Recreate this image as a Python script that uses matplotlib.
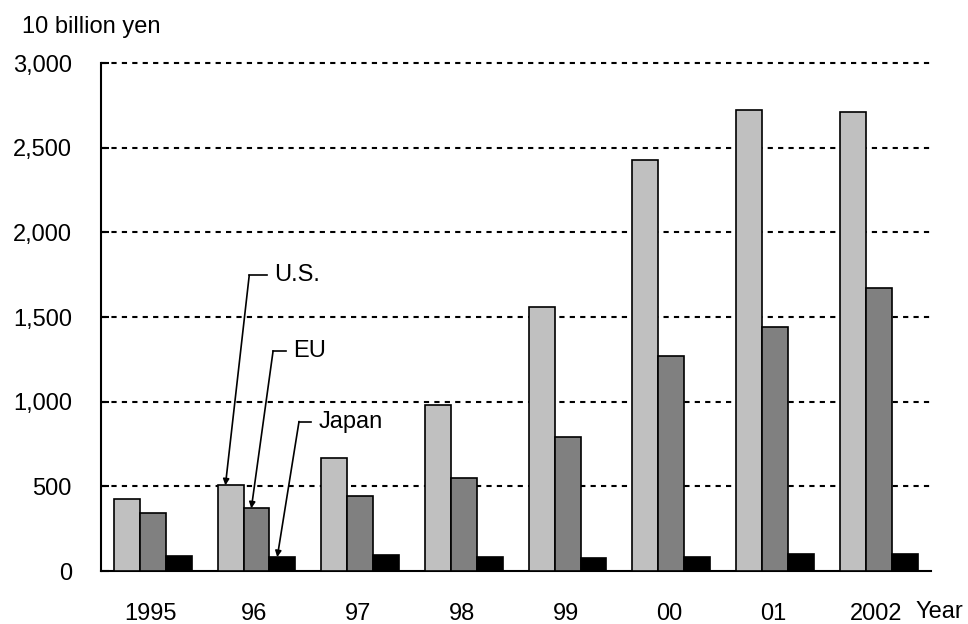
import matplotlib.pyplot as plt
import numpy as np

plt.rcParams['font.family'] = ['Liberation Sans', 'DejaVu Sans']
fs = 17

years = ["1995", "96", "97", "98", "99", "00", "01", "2002"]
us = [423, 506, 670, 978, 1560, 2430, 2720, 2710]
eu = [341, 370, 441, 551, 790, 1270, 1440, 1670]
japan = [88, 82, 94, 85, 75, 80, 100, 100]

fig = plt.figure(figsize=(9.68, 6.24), dpi=100)
ax = fig.add_axes([0.1043, 0.0849, 0.857, 0.8141])

x = np.arange(len(years))
w = 0.25
ax.bar(x - w, us, w, color="#c0c0c0", edgecolor="black", linewidth=1.2, zorder=3)
ax.bar(x, eu, w, color="#808080", edgecolor="black", linewidth=1.2, zorder=3)
ax.bar(x + w, japan, w, color="black", edgecolor="black", linewidth=1.2, zorder=3)

ax.set_xlim(-0.5, len(years) - 0.5)
ax.set_ylim(0, 3000)
ax.set_yticks(np.arange(0, 3001, 500))
ax.set_yticklabels([f"{v:,}" for v in range(0, 3001, 500)])
ax.set_xticks(x - 0.02)
ax.set_xticklabels(years)
ax.tick_params(axis="x", length=0, pad=23, labelsize=fs)
ax.tick_params(axis="y", direction="in", length=6, width=1.5, pad=21, labelsize=fs)

for v in range(500, 3001, 500):
    ax.axhline(v, color="black", linestyle=(0, (2.5, 2.5)), linewidth=1.5,
               zorder=1, clip_on=False)

for s in ["top", "right"]:
    ax.spines[s].set_visible(False)
for s in ["left", "bottom"]:
    ax.spines[s].set_linewidth(1.5)

fig.text(0.023, 0.957, "10 billion yen", fontsize=fs, va="center", ha="left")
fig.text(0.946, 0.019, "Year", fontsize=fs, va="center", ha="left")

# callout labels pointing at the 1996 bars
labels = [("U.S.", 1 - w, us[1], (0.93, 1747), (1.12, 1747)),
          ("EU", 1, eu[1], (1.16, 1300), (1.30, 1300)),
          ("Japan", 1 + w, japan[1], (1.41, 883), (1.55, 883))]
for name, xt, yt, corner, tx in labels:
    ax.plot([corner[0], tx[0] - 0.02], [corner[1], corner[1]], color="black", lw=1.2, zorder=4)
    ax.annotate("", xy=(xt - 0.05, yt), xytext=corner,
                arrowprops=dict(arrowstyle="-|>", color="black", lw=1.2,
                                mutation_scale=9, shrinkA=0, shrinkB=0), zorder=4)
    ax.text(tx[0] + 0.05, tx[1], name, fontsize=fs, va="center", ha="left")

fig.savefig("out.png")
